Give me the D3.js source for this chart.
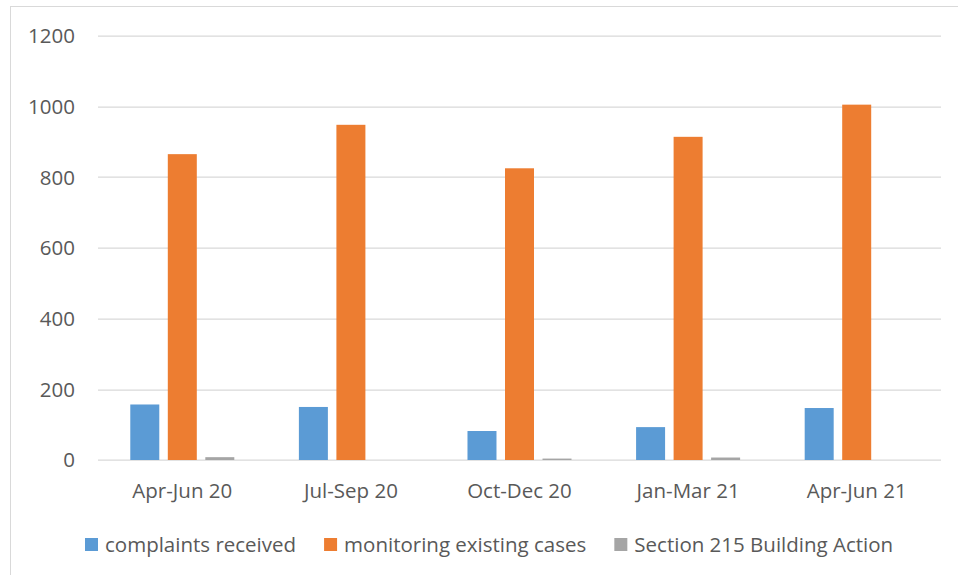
<!DOCTYPE html>
<meta charset="utf-8">
<style>
  body { margin: 0; background: #fff; }
  text { font-family: "Open Sans", "Liberation Sans", sans-serif; fill: #595959; }
</style>
<svg width="958" height="575"></svg>
<script src="https://d3js.org/d3.v7.min.js"></script>
<script>
// quarters on the x axis
var quarters = ["Apr-Jun 20", "Jul-Sep 20", "Oct-Dec 20", "Jan-Mar 21", "Apr-Jun 21"];
// series names and values
var seriesNames = ["complaints received", "monitoring existing cases", "Section 215 Building Action"];
var complaints = [157, 150, 82, 93, 147];
var monitoring = [865, 948, 825, 914, 1005];
var section215 = [8, 0, 4, 7, 0];
var yTicks = [0, 200, 400, 600, 800, 1000, 1200];

var colors = ["#5b9bd5", "#ed7d31", "#a5a5a5"];
var fontSize = "20.5px";

var svg = d3.select("svg"),
    margin = {top: 35.7, right: 17, bottom: 115, left: 98},
    width = 958 - margin.left - margin.right,
    height = 460 - margin.top;

// chart border
svg.append("rect")
    .attr("x", 10.5).attr("y", 6.5)
    .attr("width", 980).attr("height", 600)
    .attr("fill", "none").attr("stroke", "#d9d9d9");

var g = svg.append("g").attr("transform", "translate(" + margin.left + "," + margin.top + ")");

var x0 = d3.scaleBand().domain(quarters).range([0, width])
    .paddingInner(0.383).paddingOuter(0.1915);
var x1 = d3.scaleBand().domain(seriesNames).range([0, x0.bandwidth()])
    .paddingInner(0.227).paddingOuter(0);
var y = d3.scaleLinear().domain([0, 1200]).range([height, 0]);
var z = d3.scaleOrdinal().domain(seriesNames).range(colors);

// gridlines
g.append("g").selectAll("line")
  .data(yTicks)
  .enter().append("line")
    .attr("x1", 0).attr("x2", width)
    .attr("y1", function(d) { return Math.round(y(d)) + 0.5; })
    .attr("y2", function(d) { return Math.round(y(d)) + 0.5; })
    .attr("stroke", "#d9d9d9").attr("stroke-width", 1.3);

// y tick labels
g.append("g").selectAll("text")
  .data(yTicks)
  .enter().append("text")
    .attr("x", -23)
    .attr("y", function(d) { return y(d); })
    .attr("dy", "0.36em")
    .attr("text-anchor", "end")
    .style("font-size", fontSize)
    .text(function(d) { return d; });

// build rows
var rows = quarters.map(function(q, i) {
  return {quarter: q, values: [complaints[i], monitoring[i], section215[i]]};
});

var groups = g.append("g").selectAll("g")
  .data(rows)
  .enter().append("g")
    .attr("transform", function(d) { return "translate(" + x0(d.quarter) + ",0)"; });

groups.selectAll("rect")
  .data(function(d) { return d.values.map(function(v, k) { return {key: seriesNames[k], value: v}; }); })
  .enter().append("rect")
    .attr("x", function(d) { return x1(d.key); })
    .attr("y", function(d) { return y(d.value); })
    .attr("width", x1.bandwidth())
    .attr("height", function(d) { return height - y(d.value); })
    .attr("fill", function(d) { return z(d.key); });

// x labels
g.append("g").selectAll("text")
  .data(quarters)
  .enter().append("text")
    .attr("x", function(d) { return x0(d) + x0.bandwidth() / 2; })
    .attr("y", height + 38)
    .attr("text-anchor", "middle")
    .style("font-size", fontSize)
    .text(function(d) { return d; });

// legend
var legend = svg.append("g").attr("transform", "translate(85,0)");
var items = legend.selectAll("g")
  .data(seriesNames)
  .enter().append("g");
items.append("rect")
    .attr("width", 13).attr("height", 13)
    .attr("y", 538)
    .attr("fill", function(d) { return z(d); });
items.append("text")
    .attr("x", 20)
    .attr("y", 544.5)
    .attr("dy", "0.36em")
    .style("font-size", fontSize)
    .text(function(d) { return d; });

var offset = 0;
items.each(function() {
  var it = d3.select(this);
  it.attr("transform", "translate(" + offset + ",0)");
  offset += 20 + it.select("text").node().getComputedTextLength() + 28;
});
</script>
